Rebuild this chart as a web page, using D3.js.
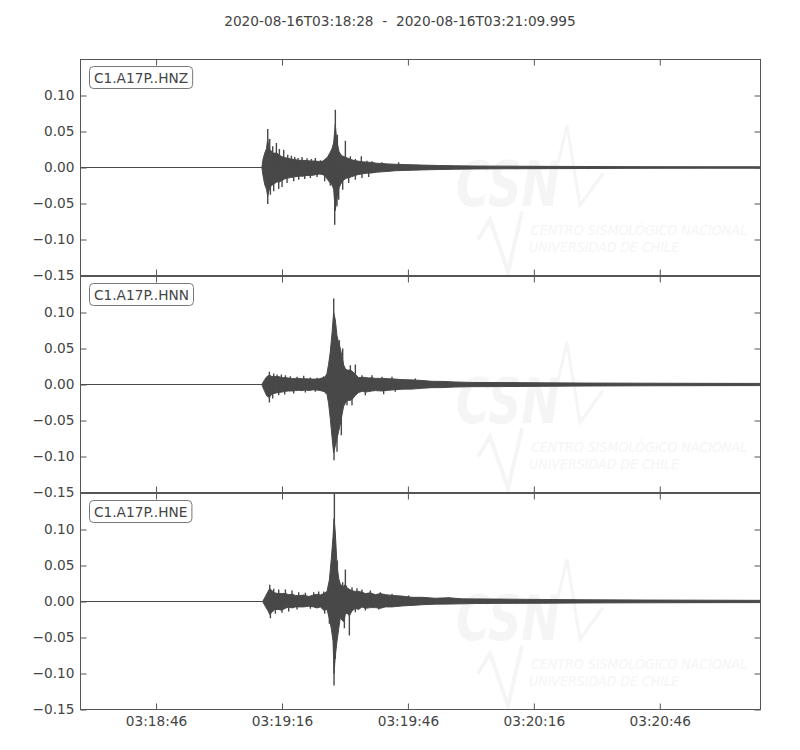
<!DOCTYPE html>
<html>
<head>
<meta charset="utf-8">
<script src="https://cdn.jsdelivr.net/npm/d3@7"></script>
<style>
  html, body { margin: 0; padding: 0; background: #ffffff; }
  svg { display: block; font-family: "DejaVu Sans", sans-serif; }
</style>
</head>
<body>
<svg id="chart" width="800" height="750"></svg>
<script>
// ---------------- data ----------------
const titleText = "2020-08-16T03:18:28  -  2020-08-16T03:21:09.995";
const startTime = "2020-08-16T03:18:28.000Z";
const endTime = "2020-08-16T03:21:09.995Z";
const channels = ["C1.A17P..HNZ", "C1.A17P..HNN", "C1.A17P..HNE"];
const xTickLabels = ["03:18:46", "03:19:16", "03:19:46", "03:20:16", "03:20:46"];
const yTicks = [-0.15, -0.10, -0.05, 0.00, 0.05, 0.10];
const yDomain = [-0.15, 0.15];

// solid body of each trace: [seconds after start, max, min]
const hnzEnvelope = [
  [0,0,0],[43.2,0,0],[43.5,0.012,-0.012],[43.9,0.020,-0.024],[44.3,0.026,-0.030],[44.6,0.040,-0.040],
  [44.9,0.026,-0.032],[45.3,0.024,-0.026],[45.8,0.020,-0.024],[46.3,0.020,-0.022],[46.8,0.020,-0.020],
  [47.4,0.017,-0.020],[48.0,0.015,-0.018],[48.6,0.014,-0.016],[49.2,0.013,-0.015],[50.0,0.012,-0.014],
  [51.0,0.011,-0.013],[52.0,0.010,-0.012],[53.0,0.010,-0.012],[54.0,0.0095,-0.011],[55.0,0.009,-0.011],
  [56.0,0.009,-0.010],[57.0,0.008,-0.009],[57.8,0.009,-0.010],[58.4,0.012,-0.013],[58.9,0.015,-0.017],
  [59.4,0.020,-0.021],[59.9,0.026,-0.024],[60.3,0.034,-0.030],[60.7,0.060,-0.060],[61.0,0.040,-0.045],
  [61.3,0.030,-0.035],[61.6,0.022,-0.028],[62.0,0.018,-0.023],[62.4,0.016,-0.019],[62.8,0.015,-0.017],
  [63.3,0.014,-0.015],[64.0,0.012,-0.014],[64.5,0.011,-0.013],[65.0,0.010,-0.012],[66.0,0.009,-0.010],
  [67.0,0.008,-0.009],[68.0,0.0075,-0.008],[69.4,0.007,-0.0075],[70.5,0.006,-0.0065],[71.8,0.0055,-0.006],
  [73.0,0.005,-0.0055],[75.0,0.0045,-0.0045],[77.4,0.004,-0.004],[79.5,0.0037,-0.0037],[81.4,0.0033,-0.0033],
  [85.3,0.0028,-0.0028],[89.3,0.0024,-0.0024],[94.0,0.002,-0.002],[100,0.0019,-0.0018],[110,0.0016,-0.0016],
  [120,0.0014,-0.0014],[130,0.0012,-0.0012],[140,0.0011,-0.0011],[150,0.001,-0.001],[162,0.001,-0.001]
];
const hnnEnvelope = [
  [0,0,0],[43.2,0,0],[43.9,0.007,-0.010],[44.4,0.011,-0.016],[45.0,0.013,-0.018],[45.6,0.011,-0.013],
  [46.4,0.011,-0.012],[47.2,0.011,-0.011],[48.0,0.0095,-0.0105],[48.8,0.0095,-0.0095],[49.6,0.009,-0.009],
  [50.4,0.008,-0.009],[51.2,0.0085,-0.0085],[52.0,0.0085,-0.008],[52.8,0.008,-0.0085],[53.6,0.008,-0.0075],
  [54.4,0.0078,-0.0085],[55.2,0.0075,-0.0075],[56.0,0.0075,-0.0075],[56.8,0.0078,-0.008],[57.5,0.009,-0.009],
  [58.2,0.010,-0.010],[58.7,0.015,-0.013],[59.1,0.028,-0.026],[59.5,0.045,-0.047],[59.9,0.070,-0.072],
  [60.3,0.100,-0.095],[60.7,0.090,-0.085],[61.1,0.068,-0.075],[61.5,0.058,-0.065],[61.9,0.050,-0.055],
  [62.3,0.038,-0.042],[62.7,0.027,-0.030],[63.1,0.022,-0.026],[63.5,0.020,-0.022],[64.3,0.020,-0.022],
  [64.8,0.018,-0.020],[65.5,0.014,-0.015],[66.3,0.0095,-0.011],[67.1,0.010,-0.0095],[67.9,0.0098,-0.0105],
  [68.7,0.009,-0.0098],[69.4,0.0095,-0.009],[70.2,0.0085,-0.0085],[71.8,0.0085,-0.009],[73.4,0.008,-0.008],
  [75.0,0.0075,-0.0072],[76.6,0.0068,-0.0065],[79.0,0.0064,-0.0064],[81.4,0.0056,-0.0052],[83.7,0.0044,-0.0044],
  [86.1,0.0043,-0.0043],[89.3,0.0035,-0.0035],[93.3,0.0028,-0.0030],[100,0.0027,-0.0029],[110,0.0023,-0.0025],
  [120,0.0020,-0.0021],[135,0.0018,-0.0018],[150,0.0016,-0.0016],[162,0.0015,-0.0015]
];
const hneEnvelope = [
  [0,0,0],[43.4,0,0],[44.05,0.007,-0.007],[44.68,0.014,-0.013],[45.08,0.018,-0.018],[45.63,0.015,-0.015],
  [46.27,0.012,-0.011],[47.06,0.011,-0.011],[47.86,0.011,-0.012],[48.81,0.011,-0.0095],[49.6,0.0095,-0.0075],
  [50.4,0.010,-0.009],[51.19,0.0085,-0.0075],[51.98,0.008,-0.0075],[53.17,0.009,-0.0075],[54.37,0.007,-0.0065],
  [55.56,0.009,-0.0075],[56.35,0.010,-0.009],[57.14,0.009,-0.0075],[57.94,0.011,-0.012],[58.73,0.014,-0.011],
  [59.29,0.030,-0.024],[59.76,0.060,-0.038],[60.16,0.090,-0.055],[60.40,0.115,-0.100],[60.71,0.095,-0.075],
  [61.11,0.050,-0.055],[61.51,0.032,-0.038],[61.9,0.024,-0.022],[62.3,0.022,-0.026],[62.7,0.021,-0.028],
  [63.1,0.024,-0.018],[63.49,0.019,-0.016],[64.05,0.017,-0.020],[64.68,0.015,-0.013],[65.48,0.014,-0.0095],
  [66.27,0.014,-0.011],[67.06,0.013,-0.0075],[67.86,0.011,-0.0095],[69.05,0.012,-0.0085],[70.24,0.0095,-0.0085],
  [71.43,0.011,-0.0095],[72.62,0.0095,-0.0075],[74.21,0.0085,-0.0075],[76.59,0.0075,-0.0062],[78.97,0.0058,-0.0054],
  [81.35,0.0058,-0.0045],[84.52,0.0045,-0.0037],[87.7,0.0052,-0.0036],[90.87,0.0037,-0.0032],[94.05,0.0036,-0.0028],
  [100,0.0033,-0.0026],[110,0.0028,-0.0024],[120,0.0024,-0.0020],[135,0.0020,-0.0018],[150,0.0018,-0.0016],
  [162,0.0016,-0.0015]
];
// individual spikes sticking out of the body: [seconds after start, peak value]
const hnzSpikes = [
  [44.60,0.0535],[45.08,0.0396],[45.79,0.0294],[46.67,0.0340],[47.38,0.0257],[48.41,0.0248],[49.37,0.0178],
  [50.24,0.0164],[51.03,0.0146],[51.83,0.0132],[52.78,0.0146],[53.97,0.0127],[55.0,0.0118],[55.95,0.0132],
  [57.14,0.0100],[58.17,0.0109],[59.29,0.0178],[59.92,0.0248],[60.71,0.0803],[61.19,0.0456],[63.1,0.0373],
  [64.29,0.0155],[65.48,0.0118],[66.9,0.0155],[68.25,0.0095],[69.44,0.0086],[71.83,0.0072],[75.79,0.0072],
  [44.60,-0.0507],[45.24,-0.0377],[46.03,-0.0331],[47.22,-0.0299],[48.02,-0.0271],[49.21,-0.0215],
  [50.79,-0.0192],[51.98,-0.0169],[53.41,-0.0160],[54.76,-0.0146],[56.35,-0.0132],[58.17,-0.0192],
  [59.52,-0.0252],[60.56,-0.0794],[61.11,-0.0539],[61.51,-0.0447],[62.46,-0.0308],[63.89,-0.0215],
  [65.48,-0.0169],[67.06,-0.0146],[68.65,-0.0132]
];
const hnnSpikes = [
  [45.0,0.0176],[46.03,0.0153],[46.83,0.0139],[47.86,0.0139],[48.81,0.0130],[50.0,0.0116],[51.59,0.0106],
  [53.17,0.0120],[54.76,0.0097],[56.35,0.0093],[57.94,0.0116],[60.32,0.1194],[61.67,0.0616],[62.46,0.0500],
  [64.29,0.0269],[65.48,0.0278],[67.06,0.0130],[69.44,0.0130],[71.83,0.0106],[74.21,0.0106],[79.76,0.0083],
  [45.0,-0.0250],[45.79,-0.0194],[47.22,-0.0148],[48.65,-0.0139],[50.79,-0.0125],[53.57,-0.0111],
  [55.95,-0.0102],[58.33,-0.0125],[60.40,-0.1051],[61.11,-0.0935],[62.14,-0.0704],[63.49,-0.0287],
  [64.68,-0.0287],[67.86,-0.0148],[72.22,-0.0134],[75.0,-0.0102]
];
const hneSpikes = [
  [45.08,0.0231],[46.03,0.0176],[47.22,0.0167],[48.81,0.0167],[50.4,0.0153],[51.98,0.0130],[53.57,0.0120],
  [55.56,0.0130],[56.75,0.0139],[57.94,0.0139],[60.48,0.152],[61.19,0.0569],[62.46,0.0269],[63.1,0.0444],
  [64.68,0.0199],[65.87,0.0185],[67.06,0.0167],[69.05,0.0153],[71.43,0.0130],[74.21,0.0106],[78.17,0.0083],
  [87.7,0.0060],
  [45.24,-0.0231],[46.43,-0.0171],[48.02,-0.0157],[49.6,-0.0139],[51.59,-0.0111],[54.76,-0.0102],
  [58.17,-0.0171],[59.29,-0.0310],[60.40,-0.1167],[60.71,-0.0796],[62.86,-0.0370],[64.05,-0.0472],
  [65.48,-0.0148],[67.86,-0.0125],[71.03,-0.0111]
];
const envelopes = [hnzEnvelope, hnnEnvelope, hneEnvelope];
const spikes = [hnzSpikes, hnnSpikes, hneSpikes];

// ---------------- layout ----------------
const svg = d3.select("#chart");
const left = 80.5, right = 760.5;
const firstTop = 59.5, panelH = 216, panelStep = 217;
const textColor = "#444444";
const frameColor = "#555555";
const waveColor = "#484848";
const wmColor = "#f5f5f5";
const fontSize = 13.7;

const t0 = new Date(startTime);
const x = d3.scaleUtc().domain([t0, new Date(endTime)]).range([left, right]);
const toDate = s => new Date(t0.getTime() + s * 1000);
const xTickDates = xTickLabels.map(s => new Date("2020-08-16T" + s + "Z"));
const fmtTime = d3.utcFormat("%H:%M:%S");
const fmtY = d3.format(".2f");

svg.append("text")
  .attr("x", 400).attr("y", 26)
  .attr("text-anchor", "middle")
  .attr("font-size", fontSize).attr("fill", textColor)
  .attr("xml:space", "preserve")
  .style("white-space", "pre")
  .text(titleText);

channels.forEach((name, i) => {
  const top = firstTop + i * panelStep;
  const bottom = top + panelH;
  const y = d3.scaleLinear().domain(yDomain).range([bottom, top]);
  const g = svg.append("g");

  const clipId = "clip" + i;
  svg.append("clipPath").attr("id", clipId)
    .append("rect").attr("x", left).attr("y", top).attr("width", right - left).attr("height", panelH);

  // faint watermark
  const wm = g.append("g");
  wm.append("text")
    .attr("x", 456).attr("y", top + 146)
    .attr("font-size", 62).attr("font-weight", "bold").attr("font-style", "italic")
    .attr("textLength", 104).attr("lengthAdjust", "spacingAndGlyphs")
    .attr("fill", wmColor).text("CSN");
  wm.append("polyline")
    .attr("points", [[548, top + 146],[567, top + 66],[580, top + 146],[603, top + 114]].map(p => p.join(",")).join(" "))
    .attr("fill", "none").attr("stroke", wmColor).attr("stroke-width", 3);
  wm.append("polyline")
    .attr("points", [[478, top + 180],[490, top + 160],[508, top + 212],[522, top + 152]].map(p => p.join(",")).join(" "))
    .attr("fill", "none").attr("stroke", wmColor).attr("stroke-width", 4);
  wm.append("text")
    .attr("x", 531).attr("y", top + 175)
    .attr("font-size", 14).attr("font-style", "italic")
    .attr("textLength", 216).attr("lengthAdjust", "spacingAndGlyphs")
    .attr("fill", wmColor).text("CENTRO SISMOLÓGICO NACIONAL");
  wm.append("text")
    .attr("x", 529).attr("y", top + 192)
    .attr("font-size", 14).attr("font-style", "italic")
    .attr("textLength", 150).attr("lengthAdjust", "spacingAndGlyphs")
    .attr("fill", wmColor).text("UNIVERSIDAD DE CHILE");

  // waveform body
  const area = d3.area()
    .x(d => x(toDate(d[0])))
    .y0(d => y(d[2]))
    .y1(d => y(d[1]));
  const wave = g.append("g").attr("clip-path", `url(#${clipId})`);
  wave.append("path")
    .datum(envelopes[i])
    .attr("d", area)
    .attr("fill", waveColor)
    .attr("stroke", waveColor)
    .attr("stroke-width", 1.0);
  // spikes
  wave.selectAll("line.spike")
    .data(spikes[i])
    .join("line")
    .attr("class", "spike")
    .attr("x1", d => x(toDate(d[0]))).attr("x2", d => x(toDate(d[0])))
    .attr("y1", y(0)).attr("y2", d => y(d[1]))
    .attr("stroke", waveColor).attr("stroke-width", 1.4);

  // axes with inward ticks
  const axL = d3.axisLeft(y).tickValues(yTicks).tickSize(-6).tickPadding(6).tickFormat(fmtY);
  const axR = d3.axisRight(y).tickValues(yTicks).tickSize(-6).tickFormat("");
  const axT = d3.axisTop(x).tickValues(xTickDates).tickSize(-6).tickFormat("");
  const axB = d3.axisBottom(x).tickValues(xTickDates).tickSize(-6).tickPadding(7)
    .tickFormat(i === channels.length - 1 ? fmtTime : "");

  const styleAxis = sel => {
    sel.select(".domain").remove();
    sel.selectAll("line").attr("stroke", frameColor);
    sel.selectAll("text").attr("fill", textColor).attr("font-size", fontSize)
      .attr("font-family", "DejaVu Sans, sans-serif");
  };
  g.append("g").attr("transform", `translate(${left},0)`).call(axL).call(styleAxis);
  g.append("g").attr("transform", `translate(${right},0)`).call(axR).call(styleAxis);
  g.append("g").attr("transform", `translate(0,${top})`).call(axT).call(styleAxis);
  g.append("g").attr("transform", `translate(0,${bottom})`).call(axB).call(styleAxis);

  g.append("rect")
    .attr("x", left).attr("y", top).attr("width", right - left).attr("height", panelH)
    .attr("fill", "none").attr("stroke", frameColor).attr("stroke-width", 1);

  // channel label box
  const lab = g.append("g");
  const txt = lab.append("text")
    .attr("x", 94).attr("y", top + 23)
    .attr("font-size", fontSize).attr("fill", textColor)
    .text(name);
  const bb = txt.node().getBBox();
  lab.insert("rect", "text")
    .attr("x", bb.x - 4.5).attr("y", top + 7)
    .attr("width", bb.width + 9).attr("height", 22)
    .attr("rx", 4).attr("ry", 4)
    .attr("fill", "#ffffff").attr("stroke", "#777777").attr("stroke-width", 1);
});
</script>
</body>
</html>
